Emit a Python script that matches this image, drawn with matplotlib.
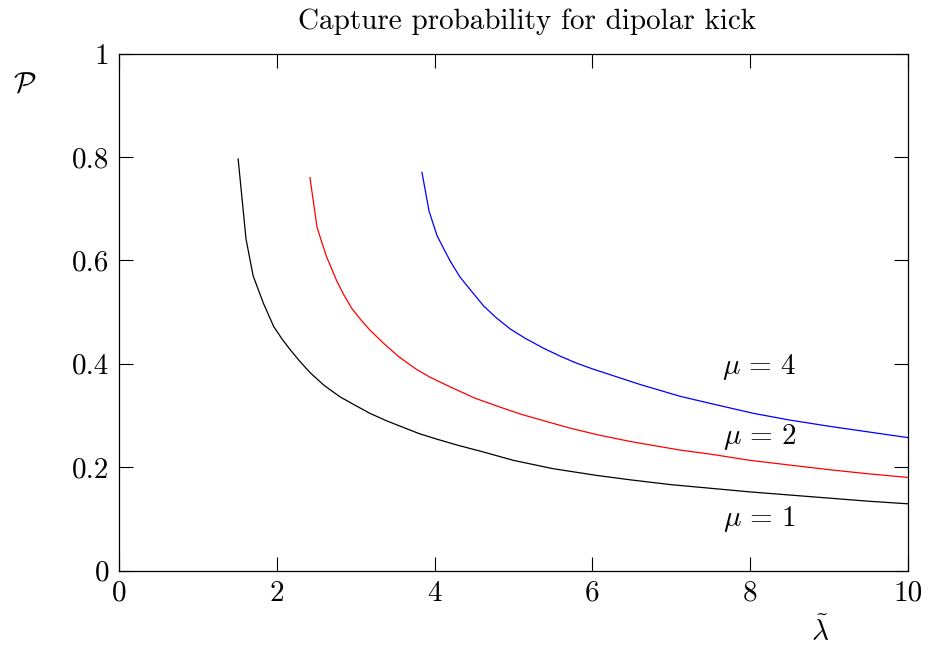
import matplotlib
matplotlib.use("Agg")
import matplotlib.pyplot as plt

plt.rcParams["font.family"] = "serif"
plt.rcParams["font.serif"] = ["cmr10"]
plt.rcParams["mathtext.fontset"] = "cm"
plt.rcParams["axes.formatter.use_mathtext"] = True

# Capture probability curves, one per mu
lam_mu1 = [1.51, 1.61, 1.70, 1.83, 1.96, 2.07, 2.17, 2.29, 2.42, 2.60, 2.80,
           3.00, 3.18, 3.40, 3.60, 3.80, 4.03, 4.30, 4.60, 5.00, 5.50, 6.05,
           6.50, 7.00, 7.50, 8.00, 8.50, 9.00, 9.50, 10.0]
p_mu1 = [0.796, 0.641, 0.570, 0.517, 0.472, 0.447, 0.427, 0.405, 0.383, 0.358,
         0.336, 0.319, 0.304, 0.289, 0.277, 0.265, 0.254, 0.242, 0.230, 0.213,
         0.197, 0.184, 0.175, 0.166, 0.159, 0.152, 0.146, 0.140, 0.134, 0.129]

lam_mu2 = [2.42, 2.51, 2.57, 2.63, 2.70, 2.76, 2.85, 2.95, 3.06, 3.18, 3.35,
           3.55, 3.77, 3.94, 4.20, 4.50, 4.83, 5.10, 5.40, 5.70, 6.08, 6.50,
           7.11, 7.50, 8.00, 8.50, 9.00, 9.50, 10.0]
p_mu2 = [0.760, 0.664, 0.635, 0.607, 0.582, 0.560, 0.533, 0.507, 0.486, 0.465,
         0.440, 0.413, 0.389, 0.374, 0.355, 0.334, 0.316, 0.302, 0.289, 0.276,
         0.262, 0.249, 0.233, 0.225, 0.213, 0.204, 0.195, 0.187, 0.180]

lam_mu4 = [3.84, 3.93, 4.03, 4.11, 4.20, 4.32, 4.49, 4.62, 4.78, 4.96, 5.15,
           5.38, 5.60, 5.80, 6.00, 6.20, 6.60, 7.11, 7.50, 8.04, 8.50, 9.00,
           9.50, 10.0]
p_mu4 = [0.770, 0.695, 0.648, 0.624, 0.598, 0.568, 0.536, 0.512, 0.489, 0.467,
         0.449, 0.430, 0.414, 0.401, 0.390, 0.380, 0.360, 0.337, 0.323, 0.304,
         0.291, 0.279, 0.268, 0.257]

x_ticks = [0, 2, 4, 6, 8, 10]
x_tick_labels = ["0", "2", "4", "6", "8", "10"]
y_ticks = [0, 0.2, 0.4, 0.6, 0.8, 1]
y_tick_labels = ["0", "0.2", "0.4", "0.6", "0.8", "1"]

fig = plt.figure(figsize=(9.32, 6.51), dpi=100)
ax = fig.add_axes([119 / 932, 1 - 570.5 / 651, 789 / 932, 517 / 651])

lw = 0.9
ax.plot(lam_mu1, p_mu1, color="black", lw=lw)
ax.plot(lam_mu2, p_mu2, color="red", lw=lw)
ax.plot(lam_mu4, p_mu4, color="blue", lw=lw)

ax.set_xlim(0, 10)
ax.set_ylim(0, 1)
ax.set_xticks(x_ticks)
ax.set_xticklabels(x_tick_labels)
ax.set_yticks(y_ticks)
ax.set_yticklabels(y_tick_labels)
ax.tick_params(direction="in", length=10, width=0.8, top=True, right=True,
               labelsize=21, color="black")
ax.tick_params(axis="x", pad=7)
ax.tick_params(axis="y", pad=7)
for s in ax.spines.values():
    s.set_linewidth(0.9)

fs = 21
ax.text(8.12, 0.393, r"$\mu\,=\,4$", fontsize=fs, ha="center", va="center")
ax.text(8.12, 0.258, r"$\mu\,=\,2$", fontsize=fs, ha="center", va="center")
ax.text(8.12, 0.100, r"$\mu\,=\,1$", fontsize=fs, ha="center", va="center")

ax.text(0.517, 1.061, "Capture probability for dipolar kick", fontsize=fs,
        ha="center", va="center", transform=ax.transAxes)
ax.text(-0.119, 0.939, r"$\mathcal{P}$", fontsize=fs, ha="center",
        va="center", transform=ax.transAxes)
ax.text(0.888, -0.119, r"$\tilde{\lambda}$", fontsize=fs, ha="center",
        va="center", transform=ax.transAxes)

fig.savefig("out.png", dpi=100)
